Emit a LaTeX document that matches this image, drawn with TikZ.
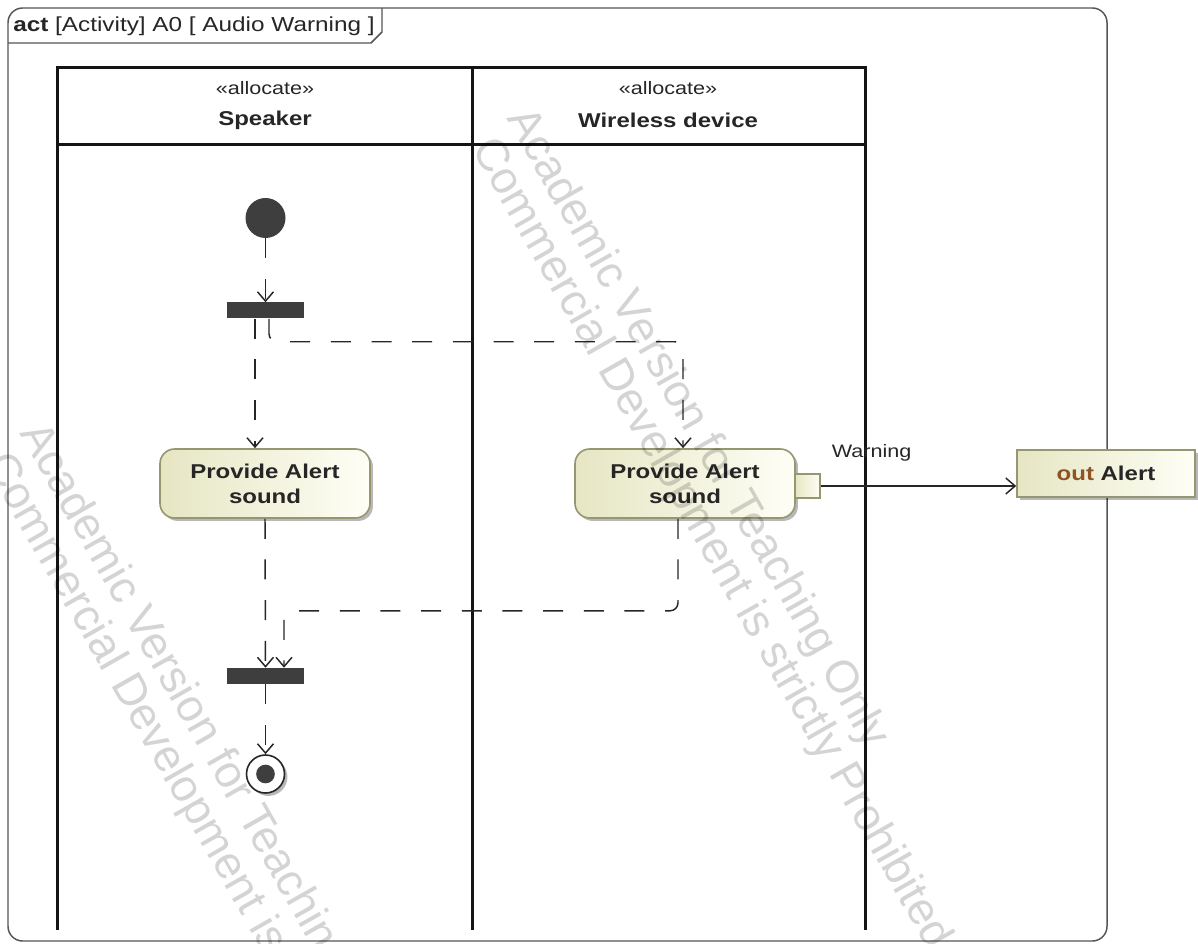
\documentclass[tikz,border=0pt]{standalone}
\usepackage{fontspec}
\setmainfont{Liberation Sans}[FakeStretch=1.2]
\newfontfamily\wmfont{Liberation Sans}
\usetikzlibrary{arrows.meta,shadows,calc}

\definecolor{actfill}{RGB}{230,230,196}
\definecolor{actfill2}{RGB}{254,254,246}
\definecolor{actline}{RGB}{150,150,112}
\definecolor{ink}{RGB}{38,38,38}
\definecolor{barfill}{RGB}{62,62,62}
\definecolor{outbrown}{RGB}{140,85,35}
\definecolor{framegray}{RGB}{85,85,85}

\tikzset{
  bold15/.style={font=\fontsize{15}{18.75}\selectfont\bfseries},
  reg135/.style={font=\fontsize{13.5}{16}\selectfont},
  softshadow/.style={drop shadow={shadow xshift=2.2pt, shadow yshift=-2.2pt, opacity=0.28, fill=black}},
  action/.style={draw=actline, line width=1.2pt, rounded corners=11pt,
    left color=actfill, right color=actfill2, minimum height=51.75pt,
    align=center, bold15, text=ink, inner sep=0pt, softshadow},
  pinbox/.style={draw=actline, line width=1.2pt, left color=actfill, right color=actfill2,
    minimum width=18.75pt, minimum height=18pt, inner sep=0pt},
  objbox/.style={draw=actline, line width=1.2pt, left color=actfill, right color=actfill2,
    minimum width=133.5pt, minimum height=35.25pt, inner sep=0pt, bold15, text=ink, softshadow},
  bar/.style={fill=barfill, minimum width=57.75pt, minimum height=12pt, inner sep=0pt},
  lane/.style={line width=2.25pt, draw=black!92},
  flow/.style={draw=ink, line width=1.1pt, dash pattern=on 15pt off 15.5pt,
    -{Straight Barb[length=7pt,width=12pt,line width=1.1pt]}},
  oflow/.style={draw=ink, line width=1.1pt,
    -{Straight Barb[length=7pt,width=12pt,line width=1.1pt]}},
  wm/.style={rotate=-60.3, font=\wmfont\fontsize{34}{40}\selectfont,
    text=black, text opacity=0.17, inner sep=0pt, anchor=base west},
}

\begin{document}
\begin{tikzpicture}[x=0.75pt, y=-0.75pt]
\useasboundingbox (0,0) rectangle (1198,944);

% diagram frame and its name tab
\draw[framegray, line width=1.1pt, rounded corners=11pt] (8,8) rectangle (1107,941);
\draw[framegray, line width=1.1pt] (8,43) -- (371,43) -- (382,32) -- (382,8);
\node[anchor=west, inner sep=0pt, font=\fontsize{15.2}{17}\selectfont, text=ink] (title) at (13,26)
  {\textbf{act} [Activity] A0 [ Audio Warning ]};

% swimlanes
\draw[lane] (57,930) -- (57,68) -- (865,68) -- (865,930);
\draw[lane] (472,68) -- (472,930);
\draw[lane] (57,145) -- (865,145);
\node[reg135, text=ink] (st1) at (265,88) {«allocate»};
\node[bold15, text=ink] (ln1) at (265,120) {Speaker};
\node[reg135, text=ink] (st2) at (668,88) {«allocate»};
\node[bold15, text=ink] (ln2) at (668,120) {Wireless device};

% control nodes
\node[circle, fill=barfill, minimum size=30pt, inner sep=0pt] (init) at (265.5,218) {};
\node[bar] (fork) at (265.5,310.5) {};
\node[bar] (join) at (265.5,676) {};
\node[circle, draw=ink, line width=1.2pt, fill=white, minimum size=28.5pt, inner sep=0pt, softshadow] (final) at (265.5,774) {};
\node[circle, fill=barfill, minimum size=14pt, inner sep=0pt] (finaldot) at (final.center) {};

% actions
\node[action, minimum width=157.5pt] (a1) at (265,483.5) {Provide Alert\\sound};
\node[action, minimum width=165pt] (a2) at (685,483.5) {Provide Alert\\sound};
\node[pinbox] (pout) at (807.5,486) {};
\node[objbox] (alert) at (1106,473.5) {{\color{outbrown}out} Alert};

% control flows
\draw[flow] (init) -- (fork);
\draw[flow] ($(fork.south)+(-10.5,0)$) -- ($(a1.north)+(-10,0)$);
\draw[flow, rounded corners=6pt] ($(fork.south)+(3.5,0)$) -- ++(0,23) -| ($(a2.north)+(-2,0)$);
\draw[flow] (a1.south) -- (join.north);
\draw[flow, rounded corners=6pt] ($(a2.south)+(-7,0)$) -- ++(0,92) -| ($(join.north)+(18.5,0)$);
\draw[flow] (join) -- (final);

% object flow
\draw[oflow] (pout.east) -- (pout.east -| alert.west)
  node[pos=0.26, above=18pt, reg135, text=ink, inner sep=0pt] (wlbl) {Warning};

% watermark
\begin{scope}
\clip (0,0) rectangle (1198,944);
\node[wm] (wm1) at (506,118) {Academic Version for Teaching Only};
\node[wm] (wm2) at (471,148) {Commercial Development is strictly Prohibited};
\node[wm] (wm3) at (19,433) {Academic Version for Teaching Only};
\node[wm] (wm4) at (-16,463) {Commercial Development is strictly Prohibited};
\end{scope}
\end{tikzpicture}
\end{document}
